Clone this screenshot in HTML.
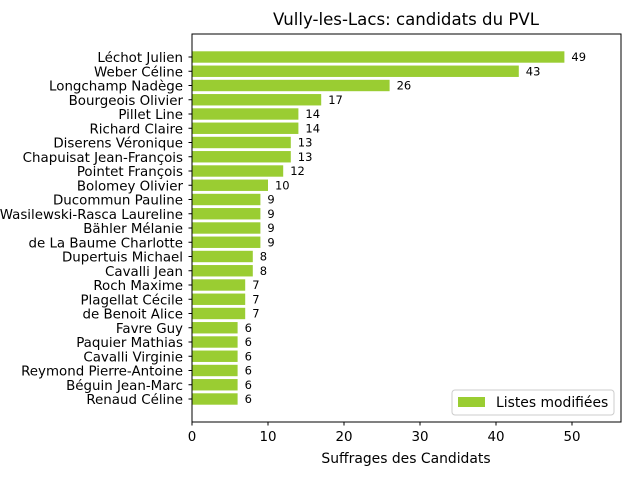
<!DOCTYPE html>
<html><head><meta charset="utf-8"><style>
body{margin:0;background:#fff}
text{font-family:"DejaVu Sans","Liberation Sans",sans-serif;fill:#000}
</style></head><body>
<svg id="chart" width="640" height="480" xmlns="http://www.w3.org/2000/svg">
<rect width="640" height="480" fill="#fff"/>
<text x="406" y="25" font-size="16.6" text-anchor="middle">Vully-les-Lacs: candidats du PVL</text>
<g id="bars"></g>
<g id="ticks"></g>
<rect x="192" y="34" width="429" height="388" fill="none" stroke="#000" stroke-width="1"/>
<text x="406" y="463" font-size="13.9" text-anchor="middle">Suffrages des Candidats</text>
<g>
<rect x="452" y="390" width="162" height="25" rx="3" fill="#fff" stroke="#ccc"/>
<rect x="458" y="397" width="27" height="10" fill="#9acd32"/>
<text x="496" y="407" font-size="13.9">Listes modifiées</text>
</g>
</svg>
<script>
const categories=["Léchot Julien","Weber Céline","Longchamp Nadège","Bourgeois Olivier","Pillet Line","Richard Claire","Diserens Véronique","Chapuisat Jean-François","Pointet François","Bolomey Olivier","Ducommun Pauline","Wasilewski-Rasca Laureline","Bähler Mélanie","de La Baume Charlotte","Dupertuis Michael","Cavalli Jean","Roch Maxime","Plagellat Cécile","de Benoit Alice","Favre Guy","Paquier Mathias","Cavalli Virginie","Reymond Pierre-Antoine","Béguin Jean-Marc","Renaud Céline"];
const values=[49,43,26,17,14,14,13,13,12,10,9,9,9,9,8,8,7,7,7,6,6,6,6,6,6];
const xTicks=[0,10,20,30,40,50];
const NS="http://www.w3.org/2000/svg";
const x0=192,x1=621,y0=34,y1=422;
const xmax=Math.max(...values)*1.152;
const xs=v=>x0+v/xmax*(x1-x0);
const n=categories.length;
const ys=i=>57+(399-57)/(n-1)*i;
const bars=document.getElementById('bars');
const ticks=document.getElementById('ticks');
function mk(tag,attrs,parent){const e=document.createElementNS(NS,tag);for(const k in attrs)e.setAttribute(k,attrs[k]);parent.appendChild(e);return e;}
const bh=(399-57)/(n-1)*0.8;
categories.forEach((c,i)=>{
  const y=ys(i);
  const r=mk('rect',{x:xs(0),y:y-bh/2,width:xs(values[i])-xs(0),height:bh,fill:'#9acd32'},bars);
  
  
  const t=mk('text',{x:xs(values[i])+7,y:y+4,'font-size':'11.5'},bars);
  t.textContent=values[i];
  
  
  mk('line',{x1:x0-3.5,x2:x0,y1:y,y2:y,stroke:'#000'},ticks);
  const l=mk('text',{x:x0-9,y:y+5,'font-size':'13.4','text-anchor':'end'},ticks);
  l.textContent=c;
  
  
});
xTicks.forEach(v=>{
  const x=xs(v);
  mk('line',{x1:x,x2:x,y1:y1,y2:y1+3.5,stroke:'#000'},ticks);
  const t=mk('text',{x:x,y:y1+19,'font-size':'13.4','text-anchor':'middle'},ticks);
  t.textContent=v;
  
  
});
</script>
</body></html>
